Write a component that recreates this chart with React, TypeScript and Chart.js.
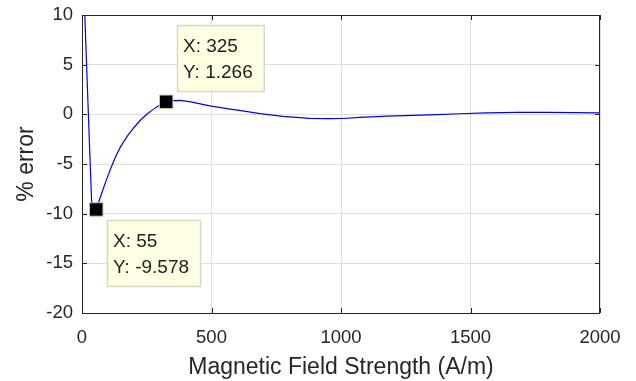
import React, { useEffect, useRef } from "react";
import { Chart, registerables } from "chart.js";

Chart.register(...registerables);

// Curve samples (Magnetic Field Strength, A/m) and % error
const fieldX = [0, 10, 20, 30, 37, 45, 55, 70, 90, 110, 130, 150, 175, 200, 225, 250, 275, 300, 325, 350, 380, 420, 494, 560, 620, 687, 776, 880, 950, 1008, 1073, 1180, 1278, 1370, 1459, 1560, 1680, 1800, 1900, 2000];
const errorY = [18, 10.6, 3.3, -3.8, -8.7, -9.35, -9.578, -8.4, -6.9, -5.5, -4.25, -3.2, -2.2, -1.35, -0.6, 0.0, 0.5, 0.95, 1.266, 1.38, 1.4, 1.25, 0.85, 0.58, 0.34, 0.07, -0.2, -0.4, -0.43, -0.42, -0.3, -0.18, -0.1, -0.02, 0.06, 0.15, 0.2, 0.2, 0.17, 0.14];

// Data tips
const tipX = [55, 325];
const tipY = [-9.578, 1.266];
const tipLabelX = ["X: 55", "X: 325"];
const tipLabelY = ["Y: -9.578", "Y: 1.266"];
const tipBelow = [true, false];

const xTicks = [0, 500, 1000, 1500, 2000];
const yTicks = [-20, -15, -10, -5, 0, 5, 10];

const FONT = "'Liberation Sans', Arial, Helvetica, sans-serif";
const AXIS = "#262626";

const framePlugin = {
  id: "frame",
  afterDatasetsDraw(chart: any) {
    const { ctx, chartArea: a, scales } = chart;
    ctx.save();
    ctx.strokeStyle = AXIS;
    ctx.lineWidth = 1;
    ctx.strokeRect(Math.round(a.left) + 0.5, Math.round(a.top) + 0.5, Math.round(a.right - a.left) - 1, Math.round(a.bottom - a.top));
    const tl = 5;
    ctx.beginPath();
    xTicks.forEach((v) => {
      const px = Math.round(scales.x.getPixelForValue(v)) + 0.5;
      ctx.moveTo(px, a.bottom);
      ctx.lineTo(px, a.bottom - tl);
      ctx.moveTo(px, a.top);
      ctx.lineTo(px, a.top + tl);
    });
    yTicks.forEach((v) => {
      const py = Math.round(scales.y.getPixelForValue(v)) + 0.5;
      ctx.moveTo(a.left, py);
      ctx.lineTo(a.left + tl, py);
      ctx.moveTo(a.right, py);
      ctx.lineTo(a.right - tl, py);
    });
    ctx.stroke();
    ctx.restore();
  },
  afterDraw(chart: any) {
    const { ctx, scales } = chart;
    ctx.save();
    ctx.font = `19px ${FONT}`;
    tipX.forEach((xv, i) => {
      const px = scales.x.getPixelForValue(xv);
      const py = scales.y.getPixelForValue(tipY[i]);
      const w = Math.max(ctx.measureText(tipLabelX[i]).width, ctx.measureText(tipLabelY[i]).width) + 17;
      const h = 66;
      const left = Math.round(px + 11);
      const top = tipBelow[i] ? Math.round(py + 11) : Math.round(py - 11 - h);
      ctx.fillStyle = "#ffffe4";
      ctx.fillRect(left, top, w, h);
      ctx.strokeStyle = "#d9d6c2";
      ctx.lineWidth = 1.5;
      ctx.strokeRect(left + 0.5, top + 0.5, w, h);
      ctx.fillStyle = "#222222";
      ctx.textBaseline = "middle";
      ctx.textAlign = "left";
      ctx.fillText(tipLabelX[i], left + 6, top + 22);
      ctx.fillText(tipLabelY[i], left + 6, top + 48);
    });
    ctx.restore();
  },
};

export default function App() {
  const ref = useRef<HTMLCanvasElement>(null);
  useEffect(() => {
    if (!ref.current) return;
    const chart = new Chart(ref.current, {
      type: "scatter",
      data: {
        datasets: [
          {
            data: tipX.map((x, i) => ({ x, y: tipY[i] })),
            showLine: false,
            pointStyle: "rect",
            pointRadius: 9.5,
            backgroundColor: "#000000",
            borderColor: "#c9c5a5",
            borderWidth: 1,
            order: 0,
          },
          {
            data: fieldX.map((x, i) => ({ x, y: errorY[i] })),
            showLine: true,
            borderColor: "#0000ff",
            borderWidth: 1.2,
            pointRadius: 0,
            tension: 0,
            order: 1,
          },
        ],
      },
      options: {
        responsive: false,
        animation: false,
        events: [],
        layout: { padding: { top: 15, right: 36, left: 0, bottom: 0 } },
        plugins: { legend: { display: false }, tooltip: { enabled: false } },
        scales: {
          x: {
            type: "linear",
            min: 0,
            max: 2000,
            afterFit: (s: any) => { s.height = 68; s.paddingLeft = 0; s.paddingRight = 0; },
            afterBuildTicks: (s: any) => { s.ticks = xTicks.map((v) => ({ value: v })); },
            grid: { color: "#dedede", drawTicks: false },
            border: { display: false },
            ticks: { padding: 14, color: AXIS, font: { family: FONT, size: 18.5 }, maxRotation: 0, callback: (v: any) => String(v) },
            title: { display: true, text: "Magnetic Field Strength (A/m)", color: AXIS, font: { family: FONT, size: 23 }, padding: { top: 0, bottom: 0 } },
          },
          y: {
            type: "linear",
            min: -20,
            max: 10,
            afterFit: (s: any) => { s.width = 82; s.paddingTop = 0; s.paddingBottom = 0; },
            afterBuildTicks: (s: any) => { s.ticks = yTicks.map((v) => ({ value: v })); },
            grid: { color: "#dedede", drawTicks: false },
            border: { display: false },
            ticks: { padding: 9, color: AXIS, font: { family: FONT, size: 18.5 }, callback: (v: any) => String(v) },
            title: { display: true, text: "% error", color: AXIS, font: { family: FONT, size: 23 }, padding: { top: 13, bottom: 0 } },
          },
        },
      },
      plugins: [framePlugin],
    });
    return () => chart.destroy();
  }, []);
  return (
    <div style={{ position: "fixed", left: 0, top: 0, width: 636, height: 381, background: "#ffffff" }}>
      <canvas ref={ref} width={636} height={381} style={{ width: 636, height: 381, display: "block" }} />
    </div>
  );
}
